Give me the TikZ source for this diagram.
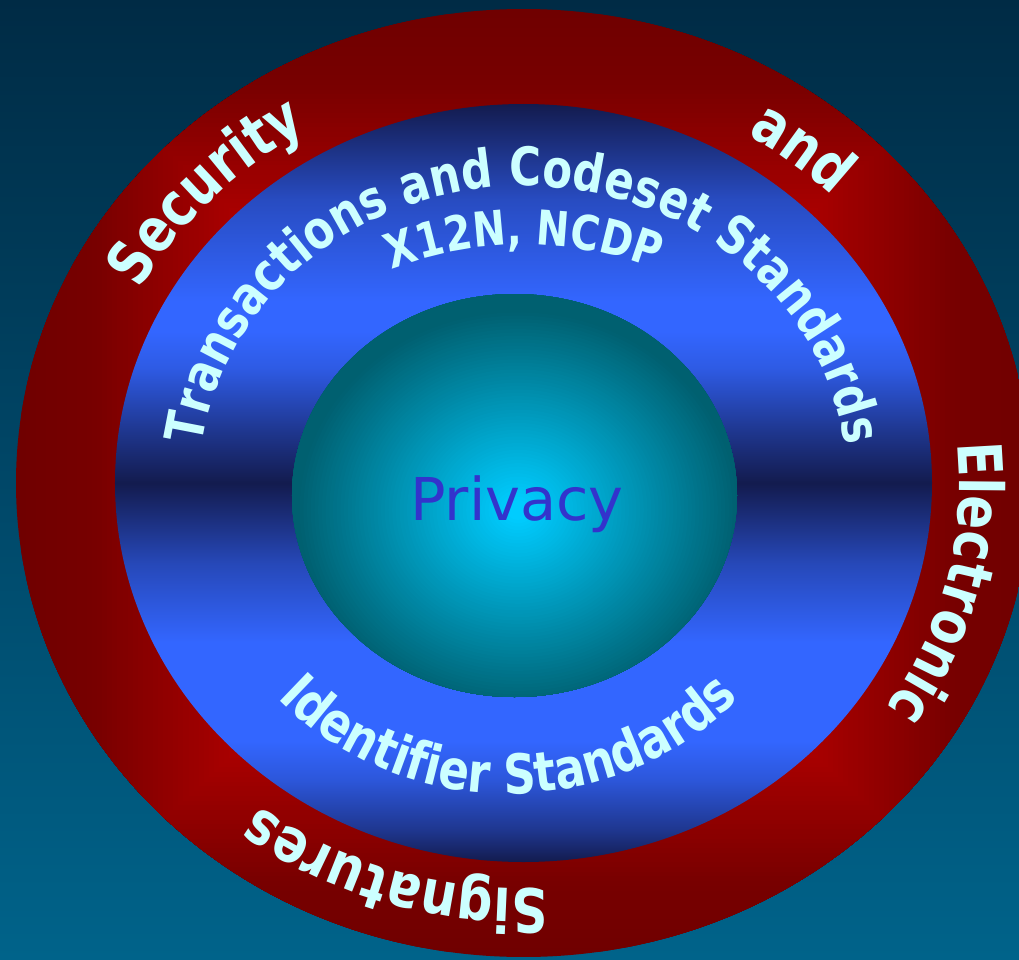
\documentclass[tikz,border=0pt]{standalone}
\usepackage{fontspec}
\usetikzlibrary{decorations.text}
\newfontfamily\platefont{DejaVu Sans}
\newfontfamily\narrowfont{DejaVu Sans}[FakeStretch=0.82]
\definecolor{bgtop}{HTML}{002B45}
\definecolor{bgbottom}{HTML}{00638A}
\definecolor{lettering}{HTML}{CCFFFF}
\definecolor{privacyink}{HTML}{3333CC}
\definecolor{navy}{HTML}{131B4E}
\definecolor{royal}{HTML}{3366FF}
\pgfdeclareverticalshading{bluering}{100bp}{color(0bp)=(navy); color(25bp)=(navy);
  color(27bp)=(royal!35!navy); color(30.5bp)=(royal!80!navy); color(33bp)=(royal);
  color(39.5bp)=(royal); color(44.7bp)=(royal!60!navy); color(50bp)=(navy);
  color(53.3bp)=(royal!35!navy); color(57.6bp)=(royal!85!navy); color(60bp)=(royal);
  color(62bp)=(royal); color(68.7bp)=(royal!65!navy); color(75bp)=(navy); color(100bp)=(navy)}
\newcommand\ringfont{\narrowfont\bfseries\fontsize{61}{61}\selectfont\color{lettering}}
\newcommand\bandfont[1]{\narrowfont\bfseries\fontsize{#1}{#1}\selectfont\color{lettering}}
\newcommand\privfont{\platefont\fontsize{59}{59}\selectfont}
\tikzset{
  wordarc/.style={decorate,decoration={text along path,text align=center,text={#1}}},
  ringword/.style={wordarc={|\ringfont|#1}},
}
\begin{document}
\begin{tikzpicture}[x=1pt,y=1pt]
  \def\rx{507.5} \def\ry{474}
  \useasboundingbox (-523.5,-476) rectangle (495.5,483);
  \shade[top color=bgtop,bottom color=bgbottom] (-523.5,-476) rectangle (495.5,483);
  % red ring, fading out from the corners of the inner disc
  \begin{scope}
    \clip (0,0) ellipse [x radius=\rx, y radius=\ry];
    \foreach \k in {0,...,45}{
      \pgfmathsetmacro\lev{1-\k/100}
      \pgfmathtruncatemacro\lvl{\lev>0.85 ? 120-(\lev-0.85)*53 : min(175,120+(0.85-\lev)*180)}
      \definecolor{ringred}{RGB}{\lvl,0,0}
      \fill[ringred] (-\rx*\lev,-\ry*\lev) rectangle (\rx*\lev,\ry*\lev);
    }
  \end{scope}
  \shade[shading=bluering] (0,0) ellipse [x radius=408.5, y radius=379];
  % glowing core
  \begin{scope}
    \clip (-9,-12.5) ellipse [x radius=222.5, y radius=201.5];
    \foreach \k in {0,...,72}{
      \pgfmathsetmacro\lev{1.2-\k/60}
      \pgfmathsetmacro\fade{min(1,max(0,(\lev-0.05)/0.95))}
      \pgfmathtruncatemacro\gval{204-108*\fade}
      \pgfmathtruncatemacro\bval{255-143*\fade}
      \definecolor{glow}{RGB}{0,\gval,\bval}
      \fill[glow] (-5.5,-27) ellipse [x radius=222*\lev+0.01, y radius=201*\lev+0.01];
    }
  \end{scope}
  \node[font=\privfont,text=privacyink,anchor=base] (privacy) at (-6.5,-37) {Privacy};
  \foreach \word/\mid in {Security/136.5,and/51,Electronic/-13.7,Signatures/-107.5}
    \path[ringword/.expanded=\word] ({\mid+45}:436 and 406)
      arc[start angle=\mid+45,end angle=\mid-45,x radius=436,y radius=406];
  \path[wordarc={|\bandfont{53}|Transactions and Codeset Standards}] (185:324 and 297)
    arc[start angle=185,end angle=-5,x radius=324,y radius=297];
  \path[wordarc={|\bandfont{48}|X12N, NCDP}] (0.5,-132) ++(120:370)
    arc[start angle=120,end angle=60,radius=370];
  \path[wordarc={|\bandfont{55}|Identifier Standards}] (-15,0) ++(190:320 and 311)
    arc[start angle=190,end angle=350,x radius=320,y radius=311];
\end{tikzpicture}
\end{document}
